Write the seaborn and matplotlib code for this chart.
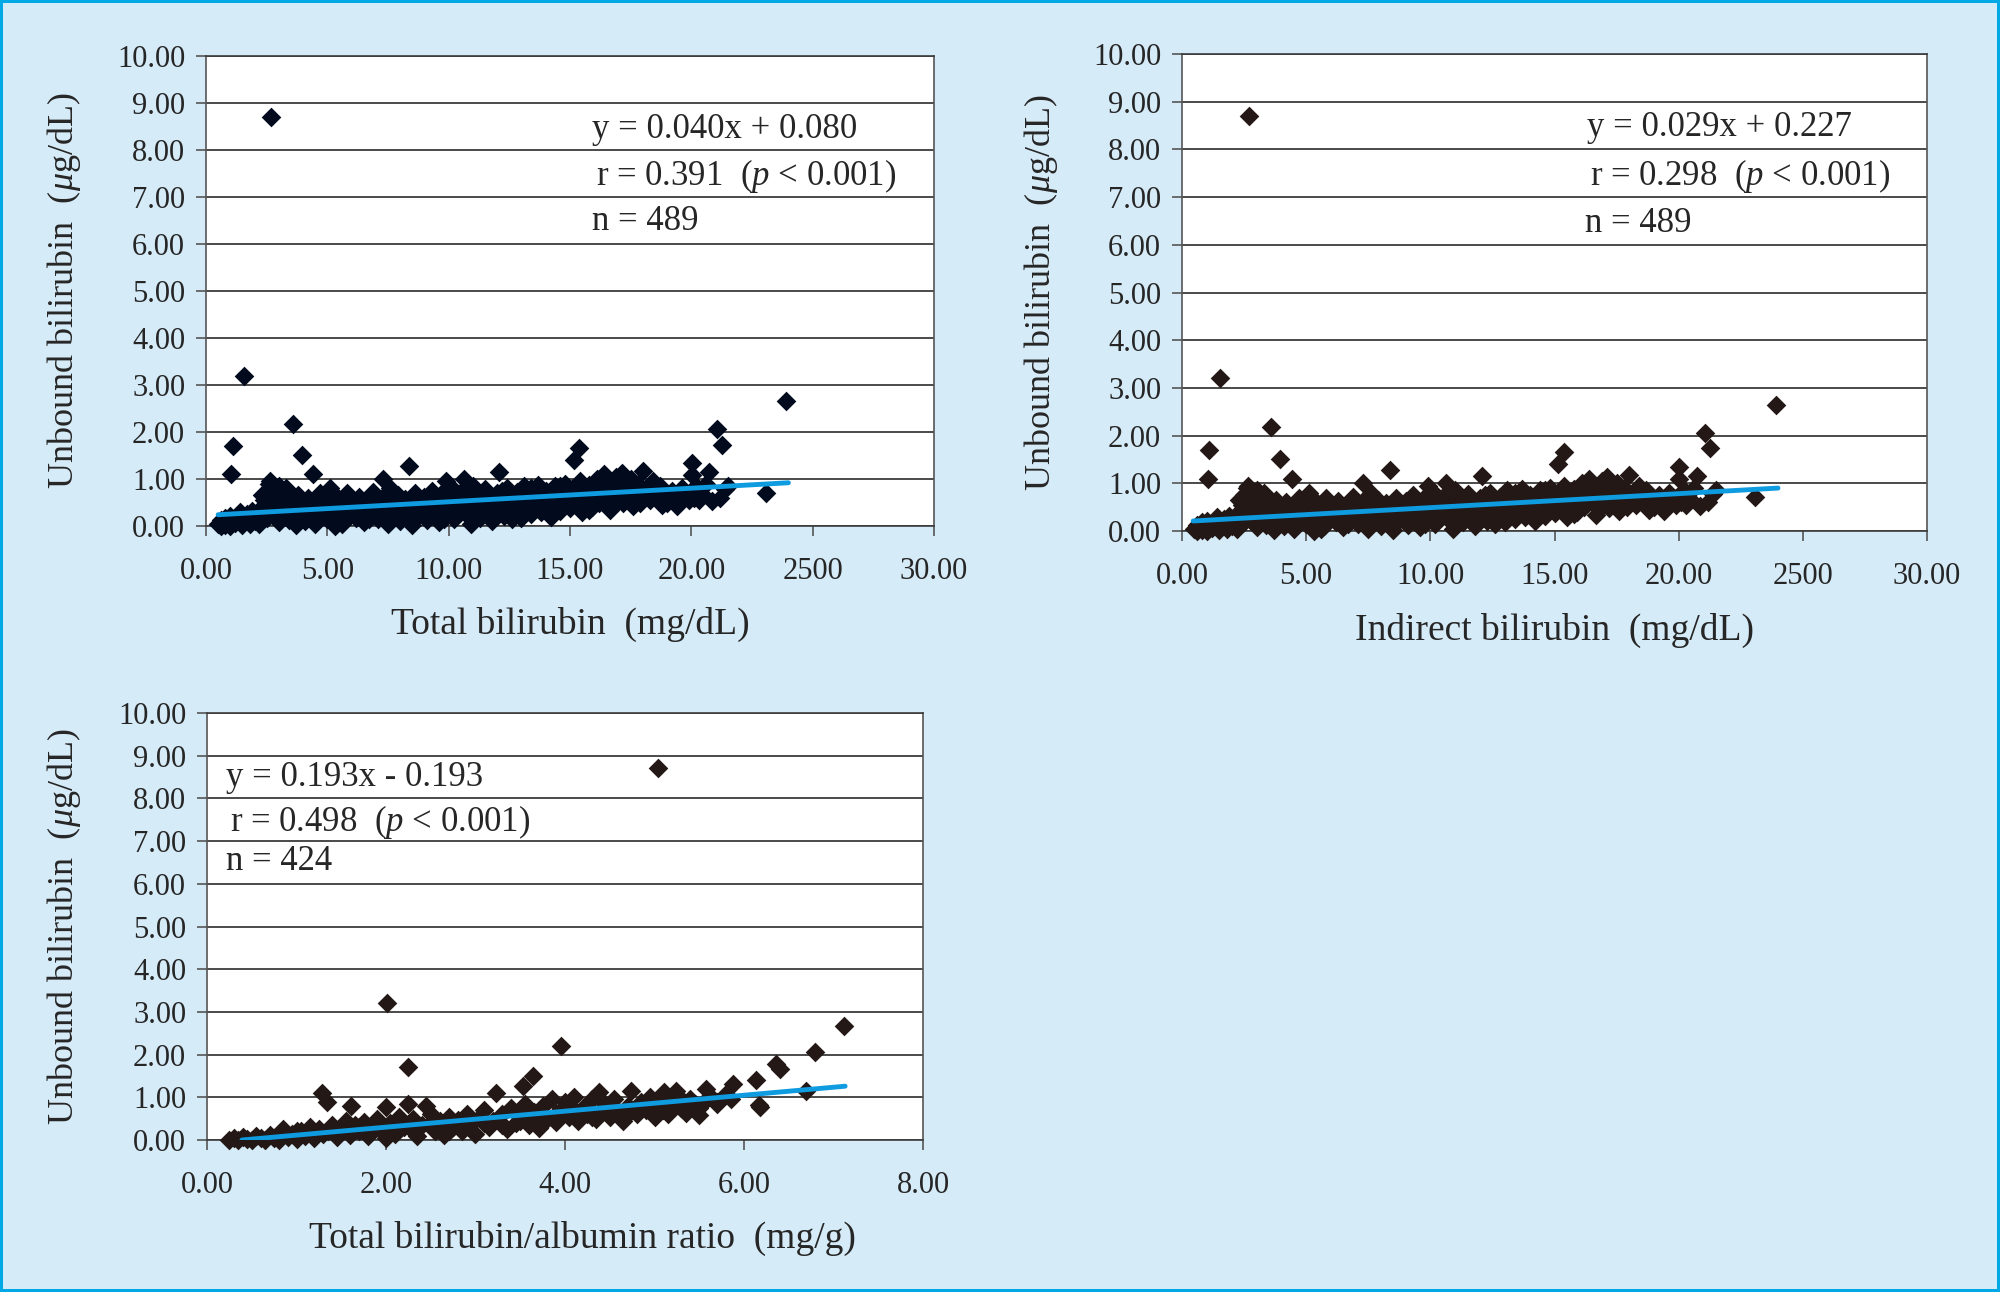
import matplotlib
matplotlib.use("Agg")
import matplotlib.pyplot as plt
import seaborn as sns

# ---- data ----
# panel 1: total bilirubin (mg/dL) vs unbound bilirubin (ug/dL)
total_bili = [
    0.5, 0.6, 0.6, 0.7, 0.8, 0.8, 0.9, 1.0, 1.0, 1.05, 1.10, 1.2, 1.3, 1.4, 1.5, 1.55, 1.6, 1.7, 1.8, 1.9, 2.0,
    2.1, 2.2, 2.3, 2.4, 2.5, 2.5, 2.6, 2.65, 2.68, 2.7, 2.8, 2.8, 2.9, 3.0, 3.0,
    3.1, 3.2, 3.3, 3.4, 3.5, 3.57, 3.6, 3.7, 3.8, 3.9, 3.94, 4.0, 4.1, 4.2, 4.3, 4.41, 4.5, 4.6, 4.7, 4.8, 4.9, 5.0,
    5.1, 5.2, 5.3, 5.4, 5.5, 5.6, 5.7, 5.8, 5.9, 6.0, 6.2, 6.3, 6.4, 6.5, 6.6, 6.8, 6.9, 7.0, 7.1, 7.3, 7.3, 7.4,
    7.5, 7.6, 7.7, 7.8, 7.9, 8.0,
    8.1, 8.2, 8.38, 8.4, 8.5, 8.6, 8.7, 8.8, 8.9, 9.0, 9.1, 9.2, 9.3, 9.4, 9.5, 9.6, 9.7, 9.9, 9.9, 10.0,
    10.1, 10.2, 10.3, 10.4, 10.5, 10.64, 10.7, 10.8, 10.9, 11.0, 11.1, 11.2, 11.3, 11.4, 11.5, 11.6, 11.7, 11.8,
    11.9, 12.0,
    12.09, 12.1, 12.2, 12.3, 12.4, 12.5, 12.6, 12.7, 12.8, 12.9, 13.0, 13.1, 13.2, 13.3, 13.4, 13.5, 13.6, 13.7,
    13.8, 13.9, 14.0, 14.1, 14.2, 14.3, 14.4, 14.5, 14.6, 14.7, 14.8, 14.9, 15.0,
    15.1, 15.16, 15.2, 15.3, 15.37, 15.4, 15.5, 15.6, 15.7, 15.8, 15.9, 16.0, 16.1, 16.2, 16.3, 16.4, 16.5,
    16.66, 16.7, 16.8, 16.9, 17.0, 17.13, 17.2, 17.3, 17.4, 17.5, 17.6, 17.7, 17.8, 18.0, 18.0,
    18.2, 18.3, 18.5, 18.7, 18.9, 19.0, 19.2, 19.42, 19.47, 19.6, 19.8, 20.02, 20.02, 20.1, 20.2, 20.4, 20.73,
    20.86, 21.07, 21.26, 21.4, 21.5,
    23.07, 23.9,
    2.3, 2.6, 2.9, 3.3, 3.6, 4.0, 4.4, 4.8, 5.2, 5.6, 6.1, 6.7, 7.2, 7.7, 8.3, 8.6, 9.1, 9.5, 9.8, 10.2, 10.6,
    11.0, 11.4, 11.8, 12.2, 12.6, 13.0, 13.4, 13.8, 14.2, 14.6, 15.0, 15.4, 15.8, 16.2, 16.6, 17.0, 17.4, 17.9,
    18.4, 18.8, 19.3, 19.9, 20.3, 20.6, 21.2,
]
unbound_1 = [
    0.05, 0.00, 0.12, 0.08, 0.02, 0.18, 0.10, 0.00, 0.22, 1.10, 1.70, 0.06, 0.15, 0.30, 0.02, 3.20, 0.12, 0.25, 0.05, 0.32, 0.10,
    0.20, 0.04, 0.40, 0.55, 0.75, 0.18, 0.90, 0.95, 8.70, 0.60, 0.78, 0.30, 0.50, 0.85, 0.08,
    0.68, 0.25, 0.45, 0.12, 0.58, 2.17, 0.35, 0.02, 0.65, 0.20, 1.51, 0.48, 0.10, 0.60, 0.30, 1.10, 0.05, 0.42, 0.70, 0.22, 0.55, 0.15,
    0.80, 0.35, 0.00, 0.60, 0.25, 0.45, 0.10, 0.70, 0.30, 0.50, 0.18, 0.62, 0.38, 0.08, 0.55, 0.28, 0.72, 0.45, 0.15, 1.00, 0.62, 0.35,
    0.05, 0.80, 0.50, 0.25, 0.65, 0.10,
    0.42, 0.58, 1.27, 0.30, 0.02, 0.70, 0.20, 0.50, 0.38, 0.62, 0.12, 0.45, 0.75, 0.28, 0.55, 0.08, 0.68, 0.95, 0.35, 0.50,
    0.82, 0.15, 0.60, 0.42, 0.72, 1.00, 0.25, 0.55, 0.05, 0.85, 0.38, 0.65, 0.18, 0.50, 0.78, 0.30, 0.60, 0.10,
    0.45, 0.70,
    1.15, 0.35, 0.55, 0.22, 0.80, 0.45, 0.62, 0.30, 0.72, 0.50, 0.18, 0.85, 0.40, 0.60, 0.25, 0.70, 0.48, 0.88,
    0.30, 0.58, 0.75, 0.40, 0.20, 0.65, 0.85, 0.50, 0.32, 0.72, 0.90, 0.55, 0.38,
    0.78, 1.41, 0.60, 0.45, 1.66, 0.95, 0.30, 0.70, 0.55, 0.88, 0.40, 0.65, 1.00, 0.50, 0.78, 1.10, 0.60,
    0.34, 0.90, 0.50, 1.05, 0.72, 1.13, 0.48, 0.85, 0.62, 1.00, 0.42, 0.75, 0.90, 1.17, 0.60,
    0.80, 0.55, 0.70, 0.85, 0.62, 0.50, 0.75, 0.42, 0.64, 0.80, 0.70, 1.35, 1.09, 0.60, 0.85, 0.70, 1.15,
    0.53, 2.06, 1.73, 0.78, 0.85,
    0.71, 2.65,
    0.65, 0.35, 0.70, 0.80, 0.62, 0.25, 0.50, 0.62, 0.72, 0.05, 0.35, 0.15, 0.50, 0.70, 0.20, 0.45, 0.55, 0.30,
    0.15, 0.65, 0.35, 0.20, 0.70, 0.45, 0.75, 0.15, 0.55, 0.80, 0.45, 0.60, 0.85, 0.65, 0.50, 0.35, 0.85, 0.70,
    0.55, 0.85, 0.50, 0.95, 0.45, 0.62, 0.55, 0.55, 0.90, 0.60,
]
# panel 2: indirect bilirubin reads the same as panel 1 within pixel accuracy
indirect_bili = list(total_bili)
unbound_2 = list(unbound_1)

# panel 3: total bilirubin / albumin ratio (mg/g)
tb_alb_ratio = [
    0.25, 0.30, 0.35, 0.40, 0.45, 0.50, 0.55, 0.60, 0.65, 0.70, 0.75, 0.80, 0.85, 0.90, 0.95, 1.00,
    1.05, 1.10, 1.15, 1.20, 1.25, 1.28, 1.30, 1.34, 1.40, 1.45, 1.50, 1.55, 1.60, 1.61, 1.65, 1.70, 1.75, 1.80,
    1.85, 1.90, 1.95, 2.00, 2.00,
    2.01, 2.05, 2.10, 2.15, 2.20, 2.25, 2.25, 2.30, 2.35, 2.40, 2.45, 2.50, 2.55, 2.60, 2.65, 2.70, 2.75, 2.80,
    2.85, 2.90, 2.95, 3.00,
    3.05, 3.10, 3.15, 3.20, 3.23, 3.30, 3.35, 3.40, 3.45, 3.50, 3.53, 3.55, 3.60, 3.64, 3.65, 3.71, 3.75, 3.80,
    3.85, 3.90, 3.96, 3.95, 4.00,
    4.05, 4.10, 4.15, 4.20, 4.25, 4.30, 4.35, 4.38, 4.40, 4.45, 4.50, 4.55, 4.60, 4.65, 4.70, 4.74, 4.80, 4.85,
    4.90, 4.95, 5.00,
    5.04, 5.05, 5.11, 5.15, 5.20, 5.24, 5.30, 5.35, 5.40, 5.45, 5.50, 5.55, 5.58, 5.65, 5.70, 5.79, 5.85, 5.88,
    6.13, 6.17, 6.18, 6.36, 6.40, 6.69, 6.79, 7.12,
    1.00, 1.35, 1.70, 2.05, 2.30, 2.50, 2.70, 2.90, 3.10, 3.30, 3.50, 3.70, 3.90, 4.10, 4.30, 4.50, 4.70, 4.90,
    5.10, 5.30, 5.50, 5.70,
]
unbound_3 = [
    0.00, 0.05, 0.00, 0.08, 0.02, 0.00, 0.10, 0.04, 0.00, 0.12, 0.05, 0.00, 0.25, 0.08, 0.15, 0.02,
    0.20, 0.10, 0.30, 0.05, 0.25, 1.10, 0.15, 0.89, 0.35, 0.08, 0.28, 0.45, 0.12, 0.80, 0.35, 0.20, 0.42, 0.10,
    0.30, 0.50, 0.22, 0.77, 0.05,
    3.21, 0.40, 0.15, 0.55, 0.30, 1.71, 0.84, 0.50, 0.10, 0.35, 0.80, 0.60, 0.22, 0.45, 0.12, 0.55, 0.30, 0.48,
    0.20, 0.62, 0.38, 0.15,
    0.55, 0.70, 0.30, 0.45, 1.10, 0.60, 0.25, 0.75, 0.40, 0.55, 1.27, 0.85, 0.35, 1.49, 0.65, 0.29, 0.80, 0.50,
    0.95, 0.42, 2.19, 0.70, 0.90,
    0.55, 1.00, 0.45, 0.75, 0.60, 0.95, 0.50, 1.13, 0.70, 0.85, 0.55, 0.95, 0.65, 0.45, 0.80, 1.15, 0.60, 0.90,
    0.70, 1.00, 0.55,
    8.71, 0.80, 1.12, 0.60, 0.90, 1.15, 0.75, 0.64, 0.95, 0.85, 0.58, 0.90, 1.20, 0.95, 0.85, 1.06, 0.95, 1.31,
    1.41, 0.82, 0.77, 1.78, 1.66, 1.15, 2.06, 2.67,
    0.20, 0.20, 0.30, 0.25, 0.20, 0.40, 0.20, 0.45, 0.40, 0.35, 0.45, 0.55, 0.60, 0.70, 0.55, 0.80, 0.60, 0.85,
    0.70, 0.95, 0.75, 0.90,
]

# regression lines as drawn (end points)
fit1_x, fit1_y = [0.5, 24.0], [0.24, 0.92]
fit2_x, fit2_y = [0.45, 24.0], [0.21, 0.90]
fit3_x, fit3_y = [0.39, 7.13], [0.00, 1.26]

bili_ticks = [0, 5, 10, 15, 20, 25, 30]
bili_tick_labels = ["0.00", "5.00", "10.00", "15.00", "20.00", "2500", "30.00"]
ratio_ticks = [0, 2, 4, 6, 8]
ratio_tick_labels = ["0.00", "2.00", "4.00", "6.00", "8.00"]
y_ticks = [0, 1, 2, 3, 4, 5, 6, 7, 8, 9, 10]
y_tick_labels = ["0.00", "1.00", "2.00", "3.00", "4.00", "5.00", "6.00", "7.00", "8.00", "9.00", "10.00"]

y_label = r"Unbound bilirubin  ($\mu$g/dL)"

BG = "#d6ebf8"
BORDER = "#00a9e6"
LINE = "#0f9be0"
NAVY = "#020a1e"
BROWN = "#231815"
GRID = "#3c3c3c"

sns.set_style("white")
plt.rcParams["font.family"] = ["Liberation Serif", "DejaVu Serif"]
plt.rcParams["mathtext.fontset"] = "custom"
plt.rcParams["mathtext.rm"] = "Liberation Serif"
plt.rcParams["mathtext.it"] = "Liberation Serif:italic"

W, H = 2000, 1292
fig = plt.figure(figsize=(20, 12.92), dpi=100, facecolor=BG, edgecolor=BORDER, linewidth=4)


def px_axes(left, top, right, bottom):
    return fig.add_axes([left / W, 1 - bottom / H, (right - left) / W, (bottom - top) / H])


panels = [
    dict(box=(206, 56, 934, 526), x=total_bili, y=unbound_1, color=NAVY,
         fx=fit1_x, fy=fit1_y, xlim=30, ticks=bili_ticks, tlabels=bili_tick_labels,
         xlabel="Total bilirubin  (mg/dL)", xl=(0.5, -0.209), yl=-0.195,
         notes=[(592, 129, "y = 0.040x + 0.080"),
                (596, 176, r"r = 0.391  ($p$ < 0.001)"),
                (592, 222, "n = 489")]),
    dict(box=(1182, 54, 1927, 531), x=indirect_bili, y=unbound_2, color=BROWN,
         fx=fit2_x, fy=fit2_y, xlim=30, ticks=bili_ticks, tlabels=bili_tick_labels,
         xlabel="Indirect bilirubin  (mg/dL)", xl=(0.5, -0.209), yl=-0.189,
         notes=[(1587, 127, "y = 0.029x + 0.227"),
                (1590, 176, r"r = 0.298  ($p$ < 0.001)"),
                (1585, 223, "n = 489")]),
    dict(box=(207, 713, 923, 1140), x=tb_alb_ratio, y=unbound_3, color=BROWN,
         fx=fit3_x, fy=fit3_y, xlim=8, ticks=ratio_ticks, tlabels=ratio_tick_labels,
         xlabel="Total bilirubin/albumin ratio  (mg/g)", xl=(0.524, -0.2295), yl=-0.2,
         notes=[(226, 778, "y = 0.193x - 0.193"),
                (230, 822, r"r = 0.498  ($p$ < 0.001)"),
                (226, 862, "n = 424")]),
]

for p in panels:
    ax = px_axes(*p["box"])
    ax.set_facecolor("white")
    sns.scatterplot(x=p["x"], y=p["y"], marker="D", s=100, color=p["color"],
                    linewidth=0, ax=ax, clip_on=False, zorder=3)
    sns.lineplot(x=p["fx"], y=p["fy"], color=LINE, linewidth=3.5, ax=ax, zorder=4)

    ax.set_xlim(0, p["xlim"])
    ax.set_ylim(0, 10)
    ax.set_xticks(p["ticks"], p["tlabels"])
    ax.set_yticks(y_ticks, y_tick_labels)
    ax.yaxis.grid(True, color=GRID, linewidth=1.3)
    ax.xaxis.grid(False)
    ax.set_axisbelow(True)
    for side in ["left", "right", "top", "bottom"]:
        ax.spines[side].set_visible(True)
        ax.spines[side].set_color("#555555")
        ax.spines[side].set_linewidth(1.2)
    ax.spines["bottom"].set_color(GRID)
    ax.spines["top"].set_color(GRID)
    ax.tick_params(axis="y", direction="out", length=7, width=1.2, color="#555555",
                   pad=8, labelsize=22, left=True)
    ax.tick_params(axis="x", direction="out", length=7, width=1.2, color="#555555",
                   pad=15, labelsize=22, bottom=True)

    ax.set_xlabel(p["xlabel"], fontsize=27)
    ax.xaxis.label.set_va("center")
    ax.xaxis.set_label_coords(*p["xl"])
    ax.set_ylabel(y_label, fontsize=26)
    ax.yaxis.label.set_va("center")
    ax.yaxis.set_label_coords(p["yl"], 0.5)

    for nx, ny, txt in p["notes"]:
        fig.text(nx / W, 1 - ny / H, txt, fontsize=25, ha="left", va="center")

fig.savefig("out.png", dpi=100)
